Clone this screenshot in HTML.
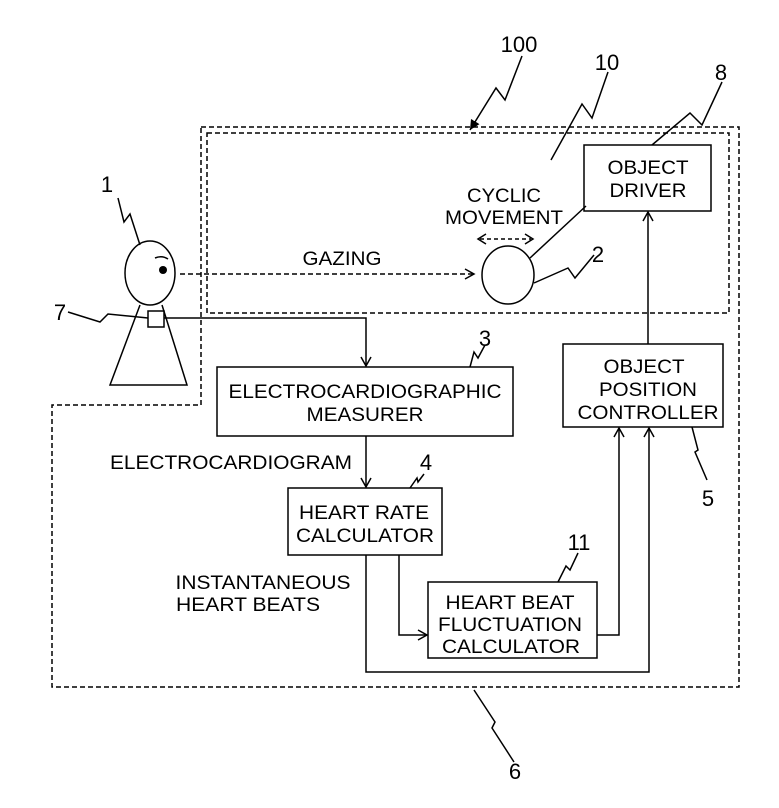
<!DOCTYPE html>
<html><head><meta charset="utf-8"><style>
html,body{margin:0;padding:0;background:#fff}
svg{display:block}
text{font-family:"Liberation Sans",sans-serif;fill:#000}
</style></head><body>
<svg width="779" height="808" viewBox="0 0 779 808" xmlns="http://www.w3.org/2000/svg">
<defs>
<marker id="a" markerWidth="12" markerHeight="12" refX="10" refY="6" orient="auto" markerUnits="userSpaceOnUse">
<path d="M1,1 L10,6 L1,11" fill="none" stroke="#000" stroke-width="1.5"/></marker>
<marker id="f" markerWidth="12" markerHeight="12" refX="10" refY="6" orient="auto" markerUnits="userSpaceOnUse">
<path d="M0,1 L10,6 L0,11 Z" fill="#000"/></marker>
</defs>
<g fill="none" stroke="#000" stroke-width="1.5">
<path d="M201,127 H739 V687 H52 V405 H201 Z" stroke-dasharray="5,3"/>
<rect x="207" y="133" width="522" height="180" stroke-dasharray="5,3"/>
<rect x="584" y="145" width="127" height="66"/>
<rect x="563" y="344" width="160" height="83"/>
<rect x="217" y="367" width="296" height="69"/>
<rect x="288" y="488" width="154" height="67"/>
<rect x="428" y="582" width="169" height="76"/>
<ellipse cx="508" cy="275" rx="26" ry="29"/>
<line x1="530" y1="258" x2="586" y2="206"/>
<ellipse cx="150" cy="273" rx="25" ry="32"/>
<path d="M140,305 L110,385 H187 L162,305"/>
<path d="M155,258 Q162,255 168,259"/>
<rect x="148" y="311" width="16" height="16"/>
<path d="M164,318 H366 V366" marker-end="url(#a)"/>
<path d="M648,344 V212" marker-end="url(#a)"/>
<path d="M366,436 V487" marker-end="url(#a)"/>
<path d="M399,555 V635 H427" marker-end="url(#a)"/>
<path d="M366,555 V672 H649 V428" marker-end="url(#a)"/>
<path d="M597,635 H619 V428" marker-end="url(#a)"/>
<path d="M180,274 H474" stroke-dasharray="5,3" marker-end="url(#a)"/>
<path d="M480,239 H531" stroke-dasharray="4,3"/>
<path d="M486,234 L478,239 L486,244 M525,234 L533,239 L525,244"/>
<path d="M522,56 L505,100 L496,88 L470,130" marker-end="url(#f)"/>
<path d="M608,72 L592,118 L582,104 L551,160"/>
<path d="M722,82 L702,125 L690,113 L652,145"/>
<path d="M118,198 L124,222 L130,214 L140,245"/>
<path d="M68,312 L100,322 L108,314 L148,318"/>
<path d="M594,255 L575,278 L568,268 L534,283"/>
<path d="M485,345 L478,358 L474,352 L470,367"/>
<path d="M424,474 L418,482 L417,478 L410,488"/>
<path d="M578,553 L570,570 L566,566 L558,582"/>
<path d="M692,427 L698,450 L695,452 L707,480"/>
<path d="M474,690 L495,722 L492,728 L514,762"/>
</g>
<circle cx="163" cy="270" r="4" fill="#000"/>
<g font-size="22" text-anchor="middle">
<text x="519" y="52">100</text>
<text x="607" y="70">10</text>
<text x="721" y="80">8</text>
<text x="107" y="192">1</text>
<text x="598" y="262">2</text>
<text x="60" y="320">7</text>
<text x="485" y="346">3</text>
<text x="426" y="470">4</text>
<text x="708" y="506">5</text>
<text x="579" y="550">11</text>
<text x="515" y="779">6</text>
</g>
<g font-size="19" text-anchor="middle">
<text x="648" y="174" textLength="81" lengthAdjust="spacingAndGlyphs">OBJECT</text>
<text x="648" y="197" textLength="77" lengthAdjust="spacingAndGlyphs">DRIVER</text>
<text x="504" y="202" textLength="74" lengthAdjust="spacingAndGlyphs">CYCLIC</text>
<text x="504" y="224" textLength="118" lengthAdjust="spacingAndGlyphs">MOVEMENT</text>
<text x="342" y="265" textLength="79" lengthAdjust="spacingAndGlyphs">GAZING</text>
<text x="644" y="373" textLength="81" lengthAdjust="spacingAndGlyphs">OBJECT</text>
<text x="648" y="396" textLength="98" lengthAdjust="spacingAndGlyphs">POSITION</text>
<text x="648" y="419" textLength="141" lengthAdjust="spacingAndGlyphs">CONTROLLER</text>
<text x="365" y="398" textLength="273" lengthAdjust="spacingAndGlyphs">ELECTROCARDIOGRAPHIC</text>
<text x="365" y="421" textLength="117" lengthAdjust="spacingAndGlyphs">MEASURER</text>
<text x="364" y="519" textLength="130" lengthAdjust="spacingAndGlyphs">HEART RATE</text>
<text x="365" y="542" textLength="138" lengthAdjust="spacingAndGlyphs">CALCULATOR</text>
<text x="510" y="609" textLength="129" lengthAdjust="spacingAndGlyphs">HEART BEAT</text>
<text x="510" y="631" textLength="144" lengthAdjust="spacingAndGlyphs">FLUCTUATION</text>
<text x="511" y="653" textLength="138" lengthAdjust="spacingAndGlyphs">CALCULATOR</text>
<text x="231" y="469" textLength="242" lengthAdjust="spacingAndGlyphs">ELECTROCARDIOGRAM</text>
<text x="263" y="589" textLength="175" lengthAdjust="spacingAndGlyphs">INSTANTANEOUS</text>
<text x="248" y="611" textLength="144" lengthAdjust="spacingAndGlyphs">HEART BEATS</text>
</g>
</svg>
</body></html>
